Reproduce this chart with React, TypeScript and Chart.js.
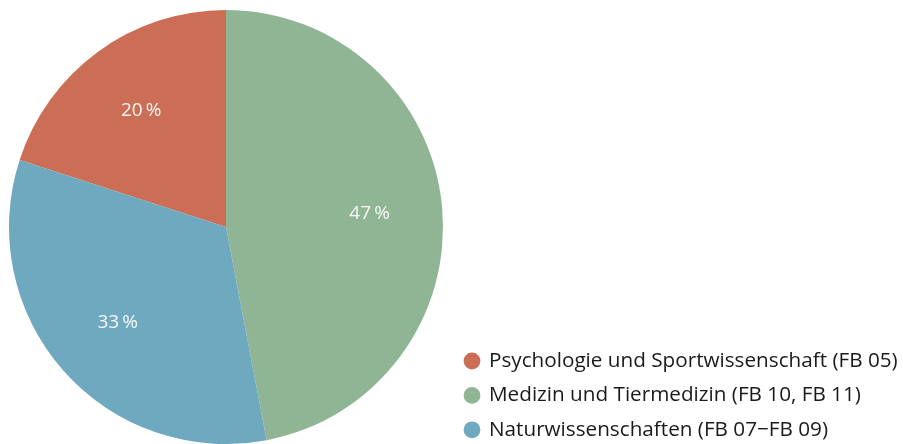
import React, { useEffect, useRef } from "react";
import { Chart, registerables } from "chart.js";

Chart.register(...registerables);

const categories = [
  "Psychologie und Sportwissenschaft (FB 05)",
  "Medizin und Tiermedizin (FB 10, FB 11)",
  "Naturwissenschaften (FB 07\u2212FB 09)",
];
const shares = [20, 47, 33];
const sliceColors = ["#CB6E55", "#8FB594", "#6EA9BF"];

const FONT = "'Open Sans', 'Noto Sans', sans-serif";

const labelPlugin = {
  id: "sliceLabels",
  afterDatasetsDraw(chart: any) {
    const ctx = chart.ctx;
    const meta = chart.getDatasetMeta(0);
    ctx.save();
    ctx.fillStyle = "#F7F7F7";
    ctx.font = `19px ${FONT}`;
    ctx.textAlign = "center";
    ctx.textBaseline = "middle";
    meta.data.forEach((arc: any, i: number) => {
      const p = arc.getProps(["x", "y", "startAngle", "endAngle", "outerRadius"], true);
      const mid = (p.startAngle + p.endAngle) / 2;
      const r = p.outerRadius * 0.665;
      ctx.fillText(`${shares[i]}\u2009%`, p.x + Math.cos(mid) * r, p.y + Math.sin(mid) * r);
    });
    ctx.restore();
  },
};

const legendPlugin = {
  id: "customLegend",
  afterDraw(chart: any) {
    const ctx = chart.ctx;
    ctx.save();
    const x0 = 472;
    const y0 = 361;
    const step = 34.4;
    ctx.font = `20px ${FONT}`;
    const w = ctx.measureText(categories[0]).width;
    let size = 20 * (409 / w);
    size = Math.max(18, Math.min(22, size));
    categories.forEach((label, i) => {
      const y = y0 + i * step;
      ctx.beginPath();
      ctx.fillStyle = sliceColors[i];
      ctx.arc(x0, y, 8.4, 0, Math.PI * 2);
      ctx.fill();
      ctx.fillStyle = "#1A1A1A";
      ctx.font = `${size}px ${FONT}`;
      ctx.textAlign = "left";
      ctx.textBaseline = "middle";
      ctx.fillText(label, 489, y);
    });
    ctx.restore();
  },
};

export default function App() {
  const ref = useRef<HTMLCanvasElement>(null);
  useEffect(() => {
    if (!ref.current) return;
    const chart = new Chart(ref.current, {
      type: "pie",
      data: {
        labels: categories,
        datasets: [
          {
            data: shares,
            backgroundColor: sliceColors,
            borderWidth: 0,
          },
        ],
      },
      options: {
        animation: false,
        responsive: false,
        rotation: -72,
        layout: { padding: { left: 9, top: 10, right: 460, bottom: 0 } },
        plugins: {
          legend: { display: false },
          tooltip: { enabled: false },
        },
      },
      plugins: [labelPlugin, legendPlugin],
    });
    return () => chart.destroy();
  }, []);
  return (
    <div style={{ position: "fixed", left: 0, top: 0, width: 903, height: 444, background: "#fff" }}>
      <canvas ref={ref} width={903} height={444} style={{ width: 903, height: 444, display: "block" }} />
    </div>
  );
}
